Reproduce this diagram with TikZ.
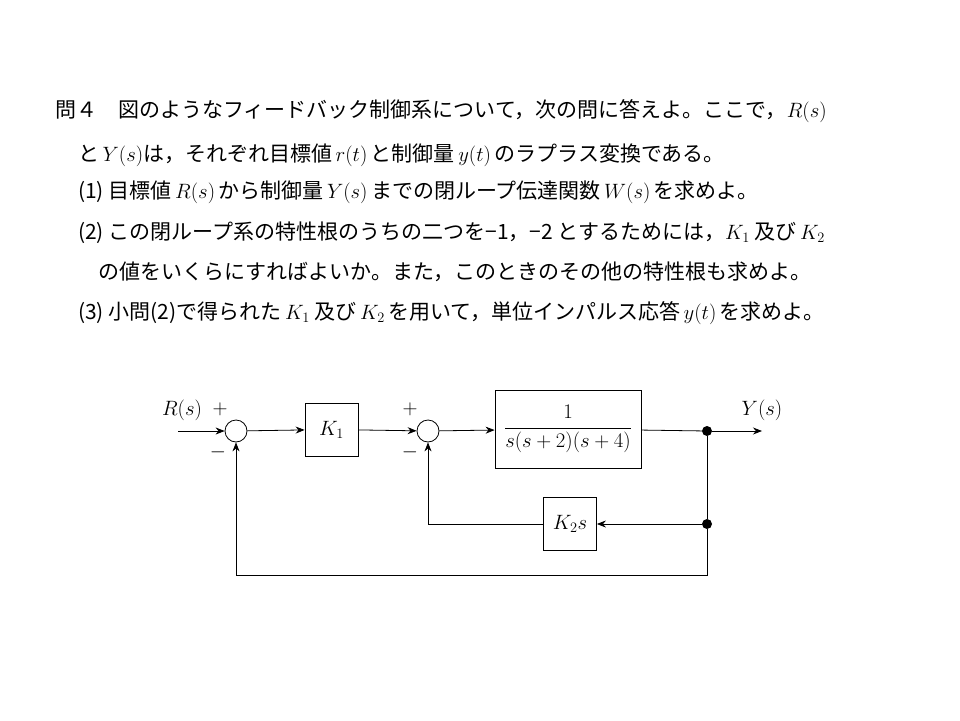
\documentclass[tikz,border=0pt]{standalone}
\usepackage{fontspec}
\setmainfont{Noto Sans CJK JP}
\usetikzlibrary{arrows.meta}
\begin{document}
\begin{tikzpicture}[x=1pt,y=-1pt,
  txt/.style={anchor=west,inner sep=0,font=\fontsize{21}{21}\selectfont},
  lbl/.style={inner sep=0,font=\fontsize{20}{20}\selectfont},
  blk/.style={draw,thick,minimum width=53pt,minimum height=53pt,inner sep=0,font=\fontsize{20}{20}\selectfont},
  sum/.style={draw,thick,circle,minimum size=22pt,inner sep=0},
  dot/.style={circle,fill,minimum size=10pt,inner sep=0},
  sig/.style={thick,-{Stealth[length=9pt,width=7pt]}},
  ln/.style={thick}]
\useasboundingbox (0,0) rectangle (960,720);
\node[txt] (t1) at (55,111) {問４　図のようなフィードバック制御系について，次の問に答えよ。ここで，$R(s)$};
\node[txt] (t2) at (78,155) {と$\,Y(s)$は，それぞれ目標値$\,r(t)\,$と制御量$\,y(t)\,$のラプラス変換である。};
\node[txt] (t3) at (78,192) {(1)\ 目標値$\,R(s)\,$から制御量$\,Y(s)\,$までの閉ループ伝達関数$\,W(s)\,$を求めよ。};
\node[txt] (t4) at (78,233) {(2)\ この閉ループ系の特性根のうちの二つを−1，−2 とするためには，$K_1$ 及び$\,K_2$};
\node[txt] (t5) at (98,272) {の値をいくらにすればよいか。また，このときのその他の特性根も求めよ。};
\node[txt] (t6) at (78,313) {(3)\ 小問(2)で得られた$\,K_1$ 及び$\,K_2\,$を用いて，単位インパルス応答$\,y(t)\,$を求めよ。};
\node[sum] (s1) at (236,431) {};
\node[sum] (s2) at (428,431) {};
\node[blk] (k1) at (331.5,429.5) {$K_1$};
\node[blk,minimum width=146pt,minimum height=78pt] (g) at (568,429) {$\displaystyle\frac{1}{s(s+2)(s+4)}$};
\node[blk] (k2) at (570,524) {$K_2s$};
\node[dot] (d1) at (707,431) {};
\node[dot] (d2) at (707,524) {};
\coordinate (in) at (178,431);
\coordinate (out) at (762,431);
\coordinate (c1) at (428,524);
\coordinate (c2) at (707,575);
\coordinate (c3) at (236,575);
\node[lbl] (lr) at (182,410) {$R(s)$};
\node[lbl] (ly) at (762,410) {$Y(s)$};
\node[lbl] (p1) at (220,409) {$+$};
\node[lbl] (m1) at (218,452) {$-$};
\node[lbl] (p2) at (410,409) {$+$};
\node[lbl] (m2) at (410,452) {$-$};
\draw[sig] (in) -- (s1);
\draw[sig] (s1) -- (k1);
\draw[sig] (k1) -- (s2);
\draw[sig] (s2) -- (g);
\draw[ln] (g) -- (d1);
\draw[sig] (d1) -- (out);
\draw[ln] (d1) -- (d2);
\draw[sig] (d2) -- (k2);
\draw[ln] (k2) -- (c1);
\draw[sig] (c1) -- (s2);
\draw[ln] (d2) -- (c2) -- (c3);
\draw[sig] (c3) -- (s1);
\end{tikzpicture}
\end{document}
